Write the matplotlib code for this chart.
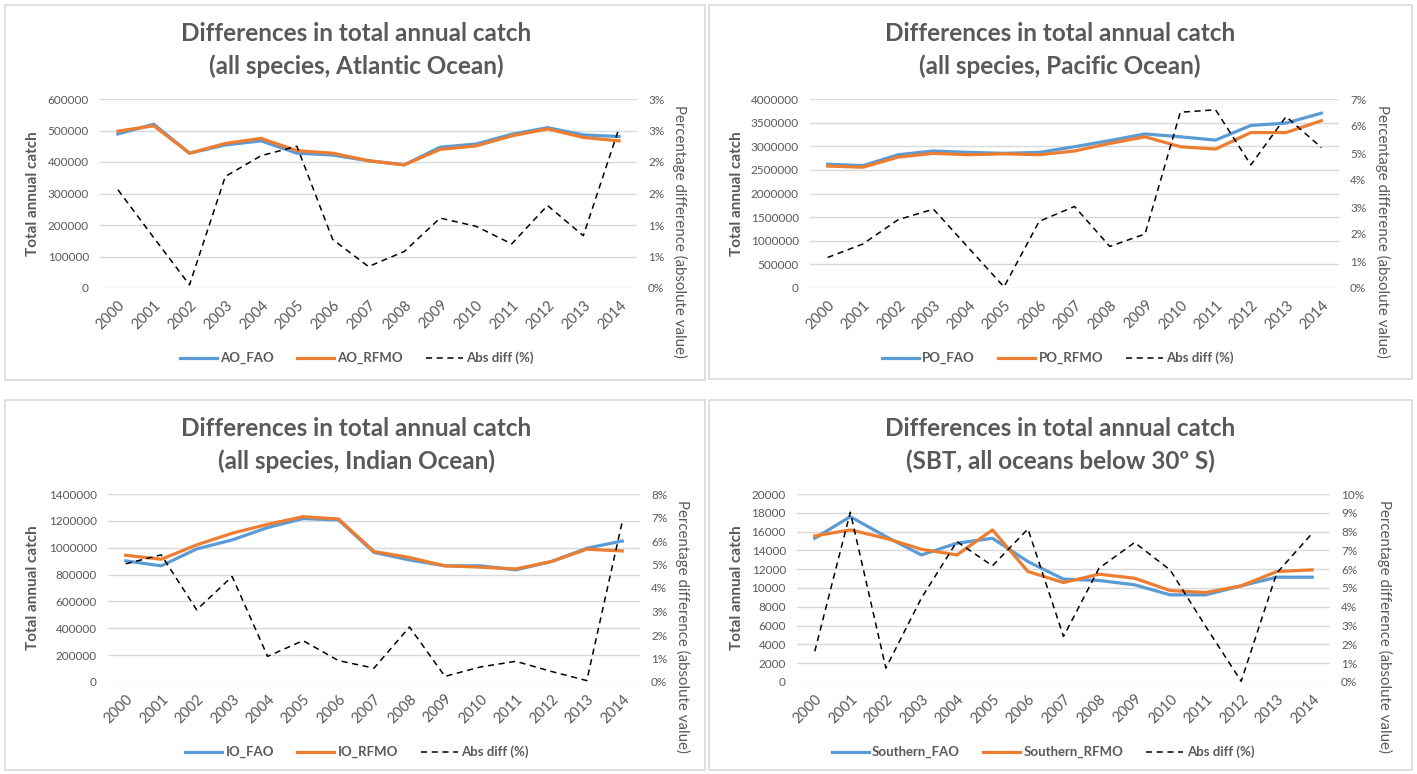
import math
import matplotlib
matplotlib.use("Agg")
import matplotlib.pyplot as plt
from matplotlib.ticker import FuncFormatter, MultipleLocator
from matplotlib.patches import Rectangle
from matplotlib.lines import Line2D

# ---------------- data ----------------
years = [str(y) for y in range(2000, 2015)]

ao_fao = [489000, 520000, 428000, 454000, 467000, 428000, 422000, 404000, 391000, 447000, 457000, 488000, 509000, 486000, 481000]
ao_rfmo = [498000, 515000, 428000, 459000, 475000, 436000, 428000, 404000, 391000, 440000, 451000, 483000, 505000, 478000, 467000]
ao_diff = [1.56, 0.80, 0.05, 1.77, 2.10, 2.25, 0.77, 0.34, 0.58, 1.11, 0.98, 0.70, 1.31, 0.83, 2.54]

po_fao = [2620000, 2590000, 2820000, 2900000, 2870000, 2850000, 2870000, 2990000, 3120000, 3260000, 3200000, 3130000, 3440000, 3490000, 3700000]
po_rfmo = [2580000, 2556000, 2770000, 2850000, 2820000, 2840000, 2820000, 2900000, 3060000, 3200000, 2990000, 2940000, 3290000, 3290000, 3540000]
po_diff = [1.13, 1.63, 2.53, 2.92, 1.48, 0.04, 2.47, 3.02, 1.54, 2.00, 6.51, 6.60, 4.56, 6.35, 5.20]

io_fao = [902000, 865000, 991000, 1058000, 1150000, 1217000, 1207000, 965000, 909000, 865000, 865000, 835000, 897000, 996000, 1050000]
io_rfmo = [944000, 914000, 1021000, 1108000, 1174000, 1231000, 1214000, 972000, 927000, 865000, 855000, 842000, 897000, 989000, 976000]
io_diff = [5.03, 5.41, 3.07, 4.49, 1.09, 1.76, 0.91, 0.59, 2.34, 0.24, 0.64, 0.88, 0.45, 0.06, 6.83]

so_fao = [15290, 17590, 15470, 13520, 14760, 15290, 12810, 10940, 10800, 10340, 9270, 9270, 10230, 11150, 11150]
so_rfmo = [15540, 16180, 15290, 14120, 13520, 16180, 11750, 10580, 11470, 11040, 9730, 9520, 10230, 11750, 11930]
so_diff = [1.63, 9.03, 0.74, 4.46, 7.47, 6.18, 8.14, 2.42, 6.05, 7.42, 5.96, 2.96, 0.04, 5.79, 7.91]

titles = [
    "Differences in total annual catch\n(all species, Atlantic Ocean)",
    "Differences in total annual catch\n(all species, Pacific Ocean)",
    "Differences in total annual catch\n(all species, Indian Ocean)",
    "Differences in total annual catch\n(SBT, all oceans below 30º S)",
]
legend_names = [
    ("AO_FAO", "AO_RFMO"),
    ("PO_FAO", "PO_RFMO"),
    ("IO_FAO", "IO_RFMO"),
    ("Southern_FAO", "Southern_RFMO"),
]
diff_name = "Abs diff (%)"
left_label = "Total annual catch"
right_label = "Percentage difference (absolute value)"

# ---------------- style ----------------
W, H = 1417, 774
DPI = 100
GRAY = "#595959"
BLUE = "#5B9BD5"
ORANGE = "#ED7D31"
GRID = "#D9D9D9"
FONT = "Lato"

fig = plt.figure(figsize=(W / DPI, H / DPI), dpi=DPI)
fig.patch.set_facecolor("white")


def px_axes(x0, y0, x1, y1):
    return fig.add_axes([x0 / W, 1 - y1 / H, (x1 - x0) / W, (y1 - y0) / H])


def pct_fmt(v, pos):
    return "%d%%" % int(math.floor(v + 0.5 + 1e-9))


# panel boxes (pixel coords)
panels = [(5, 5, 705, 380), (709, 5, 1412, 379), (5, 400, 705, 770), (709, 400, 1412, 770)]
for (x0, y0, x1, y1) in panels:
    fig.patches.append(Rectangle((x0 / W, 1 - y1 / H), (x1 - x0) / W, (y1 - y0) / H,
                                 transform=fig.transFigure, fill=False,
                                 edgecolor="#D9D9D9", linewidth=1.2))

# plot areas (pixel coords): x0, ytop, x1, ybottom
areas = [(100, 99, 637, 288), (810, 99, 1339, 288), (108, 494, 640, 682), (797, 494, 1330, 682)]
left_max = [600000, 4000000, 1400000, 20000]
left_step = [100000, 500000, 200000, 2000]
right_max = [3, 7, 8, 10]
right_step = [0.5, 1, 1, 1]
series = [(ao_fao, ao_rfmo, ao_diff), (po_fao, po_rfmo, po_diff),
          (io_fao, io_rfmo, io_diff), (so_fao, so_rfmo, so_diff)]
title_xy = [(356, 50), (1060, 50), (356, 445), (1060, 445)]
leftlab_x = [33, 737, 33, 737]
rightlab_x = [680, 1383, 683, 1385]
legend_y = [358, 358, 752, 752]
legend_cx = [357, 1058, 357, 1043]

x = list(range(len(years)))
TS = 8.5

for i in range(4):
    x0, y0, x1, y1 = areas[i]
    ax = px_axes(x0, y0, x1, y1)
    fao, rfmo, diff = series[i]
    ax.plot(x, fao, color=BLUE, lw=2.3, solid_joinstyle="round", zorder=3)
    ax.plot(x, rfmo, color=ORANGE, lw=2.3, solid_joinstyle="round", zorder=3)
    ax.set_xlim(-0.5, len(years) - 0.5)
    ax.set_ylim(0, left_max[i])
    ax.yaxis.set_major_locator(MultipleLocator(left_step[i]))
    ax.yaxis.set_major_formatter(FuncFormatter(lambda v, p: "%d" % round(v)))
    ax.grid(axis="y", color=GRID, lw=1.0)
    ax.set_axisbelow(True)
    for s in ax.spines.values():
        s.set_visible(False)
    ax.set_xticks(x)
    ax.set_xticklabels(years, rotation=45, ha="right", va="top", rotation_mode="anchor")
    ax.tick_params(axis="y", length=0, colors=GRAY, labelsize=TS, pad=8)
    ax.tick_params(axis="x", length=0, colors=GRAY, labelsize=10.5, pad=7)
    for lab in ax.get_xticklabels() + ax.get_yticklabels():
        lab.set_fontfamily(FONT)

    ax2 = ax.twinx()
    ax2.plot(x, diff, color="black", lw=1.1, ls=(0, (4, 3)), zorder=4)
    ax2.set_ylim(0, right_max[i])
    ax2.yaxis.set_major_locator(MultipleLocator(right_step[i]))
    ax2.yaxis.set_major_formatter(FuncFormatter(pct_fmt))
    for s in ax2.spines.values():
        s.set_visible(False)
    ax2.tick_params(axis="y", length=0, colors=GRAY, labelsize=TS, pad=8)
    for lab in ax2.get_yticklabels():
        lab.set_fontfamily(FONT)

    # titles and axis labels
    tx, ty = title_xy[i]
    fig.text(tx / W, 1 - ty / H, titles[i], ha="center", va="center", color=GRAY,
             fontsize=17.5, fontweight="bold", family=FONT, linespacing=1.45)
    fig.text(leftlab_x[i] / W, 1 - (y0 + y1) / 2 / H, left_label, rotation=90,
             ha="center", va="center", color=GRAY, fontsize=11, fontweight="bold", family=FONT)
    fig.text(rightlab_x[i] / W, 1 - ((y0 + y1) / 2 + 38) / H, right_label, rotation=-90,
             ha="center", va="center", color=GRAY, fontsize=10.8, family=FONT)

    # legend
    handles = [Line2D([], [], color=BLUE, lw=2.3),
               Line2D([], [], color=ORANGE, lw=2.3),
               Line2D([], [], color="black", lw=1.1, ls=(0, (4, 3)))]
    labels = [legend_names[i][0], legend_names[i][1], diff_name]
    leg = fig.legend(handles, labels, loc="center",
                     bbox_to_anchor=(legend_cx[i] / W, 1 - legend_y[i] / H),
                     ncol=3, frameon=False, handlelength=2.8, handletextpad=0.25,
                     columnspacing=1.75, borderpad=0,
                     prop={"family": FONT, "size": 9.5, "weight": "bold"})
    for t in leg.get_texts():
        t.set_color(GRAY)

fig.savefig("out.png", dpi=DPI, facecolor="white")
